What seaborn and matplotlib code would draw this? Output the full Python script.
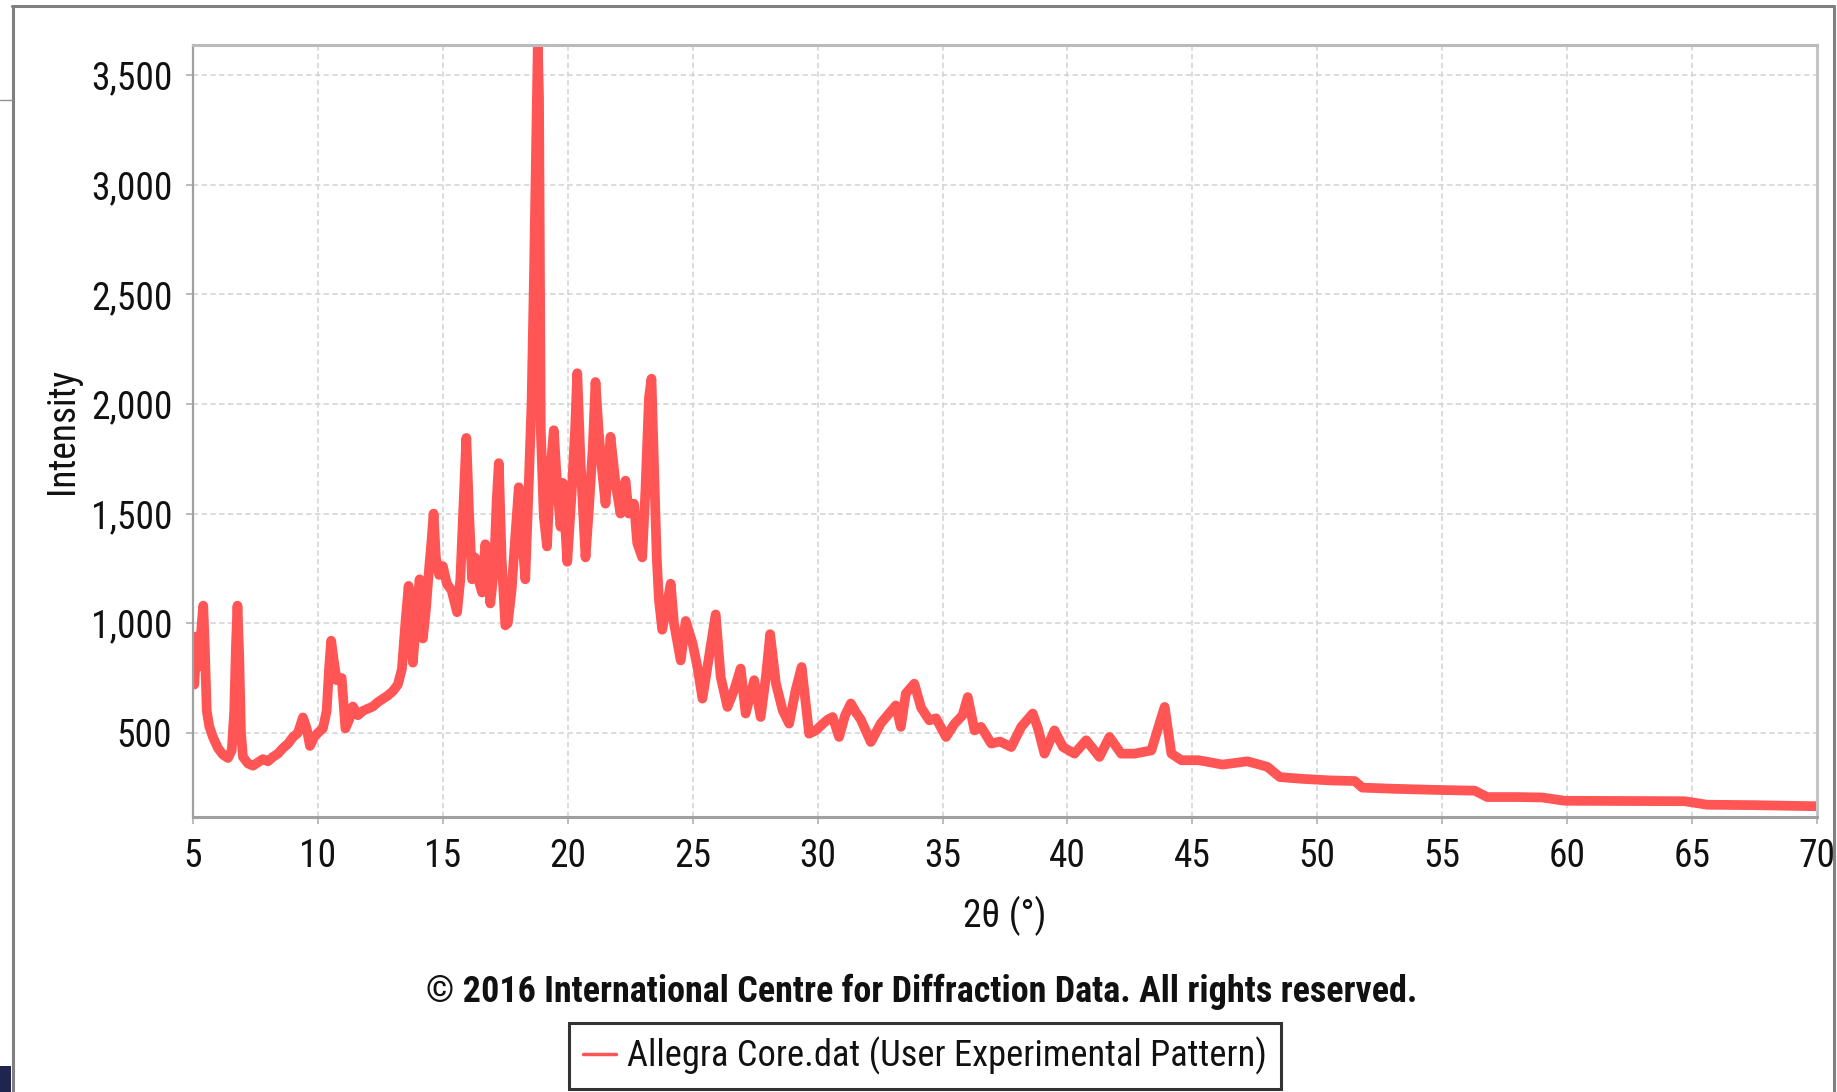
import matplotlib
matplotlib.use("Agg")
import matplotlib.pyplot as plt
from matplotlib.lines import Line2D
from matplotlib.patches import Rectangle
from matplotlib.ticker import FuncFormatter
import seaborn as sns
import pandas as pd

# ---------------- data ----------------
two_theta = [
    5.00, 5.05, 5.12, 5.20, 5.28, 5.35, 5.41, 5.47, 5.55, 5.65, 5.80, 6.00, 6.20, 6.40,
    6.55, 6.65, 6.72, 6.78, 6.85, 6.92, 7.00, 7.20, 7.40, 7.60, 7.80, 8.00, 8.20, 8.40,
    8.60, 8.80, 9.00, 9.20, 9.40, 9.55, 9.68, 9.85, 10.00, 10.20, 10.35, 10.45, 10.53,
    10.62, 10.75, 10.95, 11.10, 11.25, 11.40, 11.60, 11.80, 12.00, 12.20, 12.40, 12.60,
    12.80, 13.00, 13.20, 13.36, 13.50, 13.63, 13.72, 13.80, 13.92, 14.07, 14.20, 14.32,
    14.45, 14.55, 14.63, 14.72, 14.85, 15.00, 15.16, 15.35, 15.57, 15.70, 15.85, 15.94,
    16.05, 16.17, 16.28, 16.37, 16.47, 16.57, 16.70, 16.80, 16.90, 17.05, 17.15, 17.24,
    17.35, 17.50, 17.60, 17.76, 17.84, 18.04, 18.17, 18.30, 18.44, 18.55, 18.65, 18.75,
    18.80, 18.85, 18.92, 19.04, 19.17, 19.30, 19.44, 19.57, 19.71, 19.80, 19.98, 20.18,
    20.30, 20.38, 20.51, 20.71, 20.84, 21.00, 21.11, 21.24, 21.37, 21.51, 21.71, 21.91,
    22.11, 22.31, 22.44, 22.65, 22.78, 22.98, 23.11, 23.25, 23.35, 23.47, 23.56, 23.65,
    23.78, 23.98, 24.12, 24.25, 24.52, 24.72, 24.99, 25.19, 25.39, 25.59, 25.92, 26.12,
    26.39, 26.66, 26.92, 27.12, 27.46, 27.72, 27.93, 28.10, 28.33, 28.60, 28.86, 29.12,
    29.36, 29.66, 29.93, 30.20, 30.40, 30.60, 30.86, 31.10, 31.33, 31.55, 31.73, 32.13,
    32.53, 32.80, 33.13, 33.33, 33.53, 33.87, 34.14, 34.47, 34.74, 35.14, 35.47, 35.80,
    36.01, 36.28, 36.54, 36.95, 37.30, 37.75, 38.15, 38.61, 38.82, 39.08, 39.48, 39.82,
    40.28, 40.75, 41.28, 41.68, 42.15, 42.69, 43.36, 43.69, 43.89, 44.16, 44.56, 45.23,
    45.50, 46.20, 47.20, 48.00, 48.50, 49.40, 50.50, 51.50, 51.80, 53.00, 54.60, 55.50,
    56.30, 56.80, 58.00, 59.00, 59.90, 62.00, 64.70, 65.60, 67.50, 70.00,
]
intensity = [
    960, 720, 860, 800, 880, 1000, 1080, 900, 600, 530, 480, 430, 400, 385,
    420, 600, 900, 1080, 850, 500, 390, 360, 350, 365, 380, 370, 390, 405,
    430, 450, 480, 500, 570, 520, 440, 480, 500, 520, 600, 800, 920,
    840, 740, 750, 520, 560, 620, 580, 600, 610, 620, 640, 655,
    670, 690, 720, 790, 1000, 1170, 950, 820, 1000, 1200, 930, 1060,
    1250, 1380, 1500, 1300, 1220, 1260, 1180, 1150, 1050, 1200, 1600, 1845,
    1500, 1200, 1300, 1280, 1180, 1140, 1360, 1250, 1090, 1250, 1550, 1730,
    1300, 990, 1000, 1160, 1300, 1620, 1400, 1200, 1640, 2000, 2600, 3300,
    3640, 3400, 1880, 1485, 1350, 1690, 1880, 1640, 1440, 1640, 1280, 1640,
    1900, 2140, 1740, 1300, 1510, 1800, 2100, 1870, 1700, 1545, 1850, 1640,
    1500, 1650, 1500, 1545, 1365, 1300, 1610, 2030, 2115, 1640, 1300, 1105,
    970, 1090, 1180, 1000, 830, 1010, 910, 800, 656, 800, 1040, 755,
    618, 695, 793, 588, 740, 572, 755, 950, 725, 603, 542, 695,
    800, 496, 511, 540, 560, 572, 481, 580, 634, 590, 560, 458,
    543, 580, 625, 527, 679, 724, 615, 557, 566, 481, 540, 580,
    663, 511, 527, 451, 460, 435, 527, 588, 520, 405, 511, 435,
    405, 466, 390, 481, 405, 405, 420, 545, 618, 405, 375, 375,
    370, 355, 370, 345, 298, 290, 283, 280, 250, 245, 240, 238,
    236, 207, 207, 205, 190, 189, 188, 172, 170, 165,
]
x_ticks = [5, 10, 15, 20, 25, 30, 35, 40, 45, 50, 55, 60, 65, 70]
y_ticks = [500, 1000, 1500, 2000, 2500, 3000, 3500]
series_label = "Allegra Core.dat (User Experimental Pattern)"
x_label = "2θ (°)"
y_label = "Intensity"
copyright_text = "© 2016 International Centre for Diffraction Data. All rights reserved."

# ---------------- style ----------------
sns.set_style("white")
plt.rcParams["font.family"] = ["Roboto Condensed", "Archivo Narrow", "DejaVu Sans"]

W, H = 1837, 1092
fig = plt.figure(figsize=(W / 100, H / 100), dpi=100)
ax_l, ax_r, ax_t, ax_b = 193, 1817, 45, 817
ax = fig.add_axes([ax_l / W, 1 - ax_b / H, (ax_r - ax_l) / W, (ax_b - ax_t) / H])

df = pd.DataFrame({"two_theta": two_theta, "intensity": intensity})
sns.lineplot(data=df, x="two_theta", y="intensity", ax=ax, color="#ff5555",
             linewidth=7.0, legend=False, estimator=None, sort=False)
for ln in ax.get_lines():
    ln.set_solid_joinstyle("round")
    ln.set_solid_capstyle("butt")

ax.set_xlim(5, 70)
ax.set_ylim(116, 3637)
ax.set_xticks(x_ticks)
ax.set_yticks(y_ticks)
ax.yaxis.set_major_formatter(FuncFormatter(lambda v, _: f"{int(v):,}"))
ax.xaxis.set_major_formatter(FuncFormatter(lambda v, _: f"{int(v)}"))

ax.grid(True, color="#d2d2d2", linestyle=(0, (3.5, 2.2)), linewidth=1.1)
ax.set_axisbelow(True)
ax.tick_params(axis="both", which="major", length=5, width=1.2, color="#b0b0b0",
               labelsize=27, labelcolor="#111111", pad=10, direction="out",
               bottom=True, left=True)

for side, col, lw in [("top", "#bbbbbb", 2.2), ("left", "#a0a0a0", 1.6),
                      ("bottom", "#a0a0a0", 2.2), ("right", "#c4c4c4", 2.2)]:
    ax.spines[side].set_color(col)
    ax.spines[side].set_linewidth(lw)
    ax.spines[side].set_visible(True)

ax.set_xlabel(x_label, fontsize=27, color="#111111")
ax.set_ylabel(y_label, fontsize=27, color="#111111")
ax.xaxis.label.set_va("center")
ax.yaxis.label.set_va("center")
ax_w, ax_h = ax_r - ax_l, ax_b - ax_t
ax.xaxis.set_label_coords(0.5, -(916 - ax_b) / ax_h)
ax.yaxis.set_label_coords(-(ax_l - 62) / ax_w, 0.5)

fig.text(922 / W, 1 - 992 / H, copyright_text, ha="center", va="center",
         fontsize=26, fontweight="bold", color="#111111")

handles = [Line2D([], [], color="#ff5555", linewidth=2.5)]
leg = fig.legend(handles, [series_label], loc="upper center",
                 bbox_to_anchor=(925 / W, 1 - 1023 / H), fontsize=26.3,
                 frameon=True, fancybox=False, edgecolor="#000000",
                 handlelength=0.9, handletextpad=0.3, borderpad=0.38,
                 borderaxespad=0)
leg.get_frame().set_linewidth(2.2)
leg.get_frame().set_facecolor("white")
for t in leg.get_texts():
    t.set_color("#111111")

# window-frame decorations of the screenshot
fig.add_artist(Line2D([12 / W, 1834 / W], [1 - 6 / H, 1 - 6 / H], transform=fig.transFigure,
                      color="#808080", linewidth=2.2))
fig.add_artist(Line2D([12.5 / W, 12.5 / W], [0, 1 - 6 / H], transform=fig.transFigure,
                      color="#808080", linewidth=2.2))
fig.add_artist(Line2D([1834 / W, 1834 / W], [0, 1 - 6 / H], transform=fig.transFigure,
                      color="#808080", linewidth=2.2))
fig.add_artist(Line2D([0, 12 / W], [1 - 100 / H, 1 - 100 / H], transform=fig.transFigure,
                      color="#909090", linewidth=1.0))
fig.add_artist(Rectangle((0, 0), 11 / W, 26 / H, transform=fig.transFigure,
                         facecolor="#20254f", edgecolor="none"))

fig.savefig("out.png", dpi=100)
